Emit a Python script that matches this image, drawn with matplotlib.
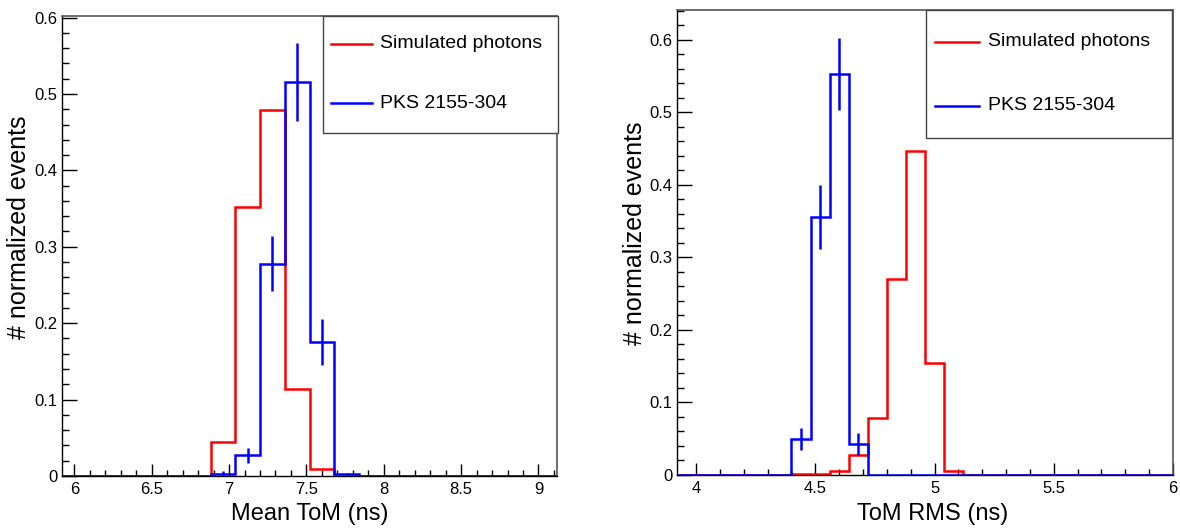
import numpy as np
import matplotlib
matplotlib.use("Agg")
import matplotlib.pyplot as plt
from matplotlib.patches import Rectangle
from matplotlib.lines import Line2D
from matplotlib.ticker import MultipleLocator, FuncFormatter

plt.rcParams['font.family'] = ['Liberation Sans', 'DejaVu Sans']

# ---------------- data ----------------
# Left: Mean ToM, 20 bins of 0.16 ns from 5.92 to 9.12
left_lo, left_w, left_n = 5.92, 0.16, 20
red_left = [0, 0, 0, 0, 0, 0, 0.045, 0.352, 0.479, 0.114,
            0.009, 0, 0, 0, 0, 0, 0, 0, 0, 0]
blue_left = [0, 0, 0, 0, 0, 0, 0.003, 0.027, 0.278, 0.516,
             0.175, 0.002, 0, 0, 0, 0, 0, 0, 0, 0]
blue_left_err = [0, 0, 0, 0, 0, 0, 0.003, 0.010, 0.036, 0.051,
                 0.030, 0.002, 0, 0, 0, 0, 0, 0, 0, 0]

# Right: ToM RMS, 26 bins of 0.08 ns from 3.92 to 6.00
right_lo, right_w, right_n = 3.92, 0.08, 26
red_right = [0, 0, 0, 0, 0, 0, 0.002, 0.001, 0.005, 0.027,
             0.078, 0.270, 0.447, 0.154, 0.005, 0, 0, 0, 0, 0,
             0, 0, 0, 0, 0, 0]
blue_right = [0, 0, 0, 0, 0, 0, 0.050, 0.356, 0.553, 0.043,
              0, 0, 0, 0, 0, 0, 0, 0, 0, 0,
              0, 0, 0, 0, 0, 0]
blue_right_err = [0, 0, 0, 0, 0, 0, 0.015, 0.044, 0.050, 0.015,
                  0, 0, 0, 0, 0, 0, 0, 0, 0, 0,
                  0, 0, 0, 0, 0, 0]

series_labels = ["Simulated photons", "PKS 2155-304"]
xlabels = ["Mean ToM (ns)", "ToM RMS (ns)"]
ylabel = "# normalized events"

RED = "#ff0000"
BLUE = "#0000ff"
LW = 1.8

W, H = 1180, 531
fig = plt.figure(figsize=(W / 100, H / 100), dpi=100)


def fx(px):
    return px / W


def fy(py):
    return 1 - py / H


def make_axes(l, r, t, b):
    return fig.add_axes([fx(l), fy(b), fx(r - l), fy(t) - fy(b)])


fmt = FuncFormatter(lambda v, p: "%g" % round(v, 2))


def draw_panel(ax, lo, w, n, red, blue, blue_err, xlim, ylim, xlab,
               xlab_pos, ylab_pos):
    edges = lo + w * np.arange(n + 1)
    centers = 0.5 * (edges[:-1] + edges[1:])
    ax.stairs(red, edges, color=RED, lw=LW, baseline=0, zorder=3)
    ax.stairs(blue, edges, color=BLUE, lw=LW, baseline=0, zorder=4)
    be = np.array(blue_err)
    bv = np.array(blue)
    m = be > 0
    ax.vlines(centers[m], bv[m] - be[m], bv[m] + be[m], color=BLUE, lw=LW, zorder=4)
    ax.set_xlim(*xlim)
    ax.set_ylim(*ylim)
    ax.xaxis.set_major_locator(MultipleLocator(0.5))
    ax.xaxis.set_minor_locator(MultipleLocator(0.1))
    ax.yaxis.set_major_locator(MultipleLocator(0.1))
    ax.yaxis.set_minor_locator(MultipleLocator(0.02))
    ax.xaxis.set_major_formatter(fmt)
    ax.yaxis.set_major_formatter(fmt)
    ax.tick_params(axis='x', which='major', direction='in', length=8.6, width=1.0, pad=4,
                   labelsize=12, top=False)
    ax.tick_params(axis='x', which='minor', direction='in', length=4.3, width=1.0, top=False)
    ax.tick_params(axis='y', which='major', direction='in', length=10.5, width=1.0, pad=3,
                   labelsize=12, right=False)
    ax.tick_params(axis='y', which='minor', direction='in', length=5.2, width=1.0, right=False)
    for s in ['top', 'right']:
        ax.spines[s].set_color('#555555')
        ax.spines[s].set_linewidth(1.2)
    for s in ['left', 'bottom']:
        ax.spines[s].set_color('black')
        ax.spines[s].set_linewidth(1.0)
    ax.set_xlabel(xlab, fontsize=17)
    ax.set_ylabel(ylabel, fontsize=18)
    ax.yaxis.set_label_coords(*ylab_pos)
    ax.xaxis.set_label_coords(*xlab_pos)


def draw_legend(l, r, t, b, line_x0, line_x1, text_x, y1, y2):
    fig.patches.append(Rectangle((fx(l), fy(b)), fx(r - l), fy(t) - fy(b),
                                 transform=fig.transFigure, fill=True, facecolor='white',
                                 edgecolor='#444444', lw=1.0, zorder=10))
    for y, c, lab in [(y1, RED, series_labels[0]), (y2, BLUE, series_labels[1])]:
        fig.lines.append(Line2D([fx(line_x0), fx(line_x1)], [fy(y), fy(y)],
                                transform=fig.transFigure, color=c, lw=LW, zorder=11))
        fig.text(fx(text_x), fy(y), lab, fontsize=14, va='center', ha='left', zorder=12)


ax1 = make_axes(62, 557, 16, 476)
draw_panel(ax1, left_lo, left_w, left_n, red_left, blue_left, blue_left_err,
           (5.92, 9.12), (0, 0.602), xlabels[0], (0.5, -0.059), (-0.062, 0.54))

ax2 = make_axes(677, 1173, 10, 475)
draw_panel(ax2, right_lo, right_w, right_n, red_right, blue_right, blue_right_err,
           (3.92, 6.0), (0, 0.641), xlabels[1], (0.516, -0.060), (-0.060, 0.52))

draw_legend(323, 558, 16, 133, 331, 372, 380, 44, 103)
draw_legend(926, 1172, 10, 138, 935, 979, 988, 42, 106)

fig.savefig("out.png", dpi=100)
